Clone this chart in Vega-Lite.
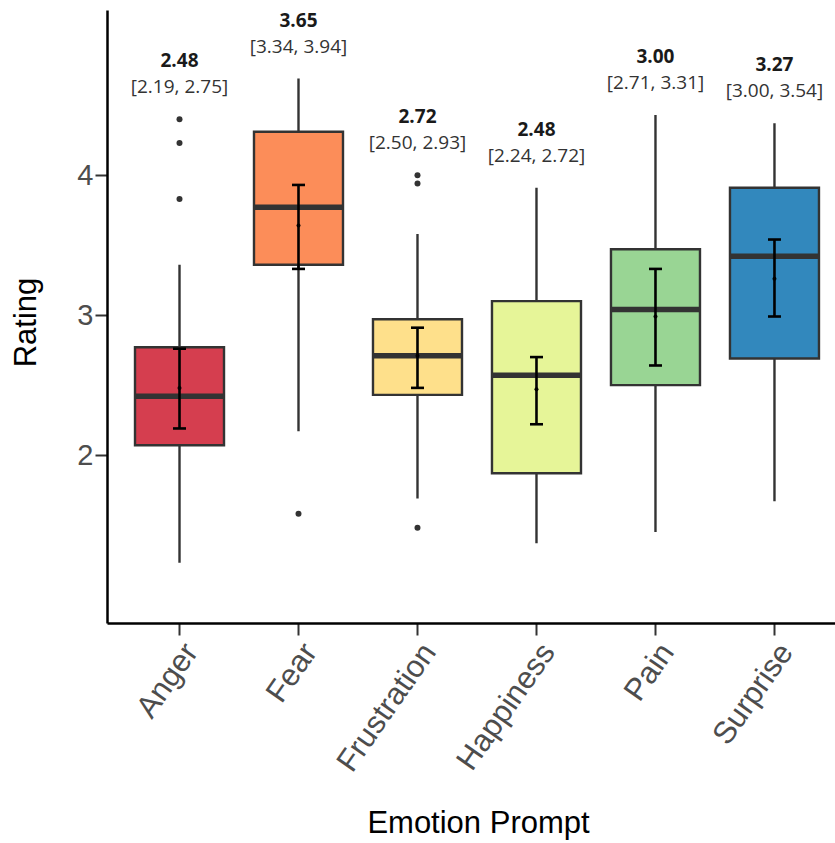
{
  "$schema": "https://vega.github.io/schema/vega-lite/v6.json",
  "width": 728,
  "height": 613,
  "autosize": {"type": "none"},
  "padding": {"left": 107, "top": 10, "right": 0, "bottom": 220},
  "background": "white",
  "config": {"view": {"stroke": null}},
  "datasets": {
    "stats": [
      {"emotion": "Anger", "lo": 1.23, "q1": 2.07, "median": 2.42, "q3": 2.77, "hi": 3.36, "mean": 2.48, "ci_lo": 2.19, "ci_hi": 2.76, "top": 4.40, "mean_label": "2.48", "ci_label": "[2.19, 2.75]"},
      {"emotion": "Fear", "lo": 2.17, "q1": 3.36, "median": 3.77, "q3": 4.31, "hi": 4.69, "mean": 3.64, "ci_lo": 3.33, "ci_hi": 3.93, "top": 4.69, "mean_label": "3.65", "ci_label": "[3.34, 3.94]"},
      {"emotion": "Frustration", "lo": 1.69, "q1": 2.43, "median": 2.71, "q3": 2.97, "hi": 3.58, "mean": 2.71, "ci_lo": 2.48, "ci_hi": 2.91, "top": 4.00, "mean_label": "2.72", "ci_label": "[2.50, 2.93]"},
      {"emotion": "Happiness", "lo": 1.37, "q1": 1.87, "median": 2.57, "q3": 3.10, "hi": 3.91, "mean": 2.47, "ci_lo": 2.22, "ci_hi": 2.70, "top": 3.91, "mean_label": "2.48", "ci_label": "[2.24, 2.72]"},
      {"emotion": "Pain", "lo": 1.45, "q1": 2.50, "median": 3.04, "q3": 3.47, "hi": 4.43, "mean": 2.99, "ci_lo": 2.64, "ci_hi": 3.33, "top": 4.43, "mean_label": "3.00", "ci_label": "[2.71, 3.31]"},
      {"emotion": "Surprise", "lo": 1.67, "q1": 2.69, "median": 3.42, "q3": 3.91, "hi": 4.37, "mean": 3.26, "ci_lo": 2.99, "ci_hi": 3.54, "top": 4.37, "mean_label": "3.27", "ci_label": "[3.00, 3.54]"}
    ],
    "outliers": [
      {"emotion": "Anger", "value": 3.83},
      {"emotion": "Anger", "value": 4.23},
      {"emotion": "Anger", "value": 4.40},
      {"emotion": "Fear", "value": 1.58},
      {"emotion": "Frustration", "value": 3.94},
      {"emotion": "Frustration", "value": 4.00},
      {"emotion": "Frustration", "value": 1.48}
    ]
  },
  "data": {"name": "stats"},
  "encoding": {
    "x": {
      "field": "emotion",
      "type": "nominal",
      "sort": null,
      "scale": {
        "type": "band",
        "domain": ["Anger", "Fear", "Frustration", "Happiness", "Pain", "Surprise"],
        "paddingInner": 0.252,
        "paddingOuter": 0.185,
        "align": 0.636
      },
      "axis": {
        "title": "Emotion Prompt",
        "titleFont": "Liberation Sans",
        "titleFontSize": 31,
        "titleFontWeight": "normal",
        "titleColor": "#000000",
        "titleX": 371,
        "titleY": 209,
        "titleAlign": "center",
        "titleBaseline": "alphabetic",
        "labelFont": "Liberation Sans",
        "labelFontSize": 31,
        "labelColor": "#4d4d4d",
        "labelAngle": -55,
        "labelAlign": "right",
        "labelBaseline": "top",
        "labelPadding": 3,
        "labelOverlap": false,
        "tickSize": 12,
        "tickWidth": 2,
        "tickColor": "#333333",
        "domainColor": "#000000",
        "domainWidth": 2.5,
        "grid": false
      }
    }
  },
  "layer": [
    {
      "mark": {"type": "rule", "color": "#333333", "strokeWidth": 2.4},
      "encoding": {
        "y": {
          "field": "lo",
          "type": "quantitative",
          "scale": {"domain": [0.8, 5.18], "nice": false, "zero": false},
          "axis": {
            "title": "Rating",
            "values": [2, 3, 4],
            "format": ".0f",
            "titleFont": "Liberation Sans",
            "titleFontSize": 31,
            "titleFontWeight": "normal",
            "titleColor": "#000000",
            "titleAngle": -90,
            "titleX": -81,
            "titleY": 312,
            "titleAlign": "center",
            "titleBaseline": "middle",
            "labelFont": "Liberation Sans",
            "labelFontSize": 29,
            "labelColor": "#4d4d4d",
            "labelPadding": 2,
            "tickSize": 12,
            "tickWidth": 2,
            "tickColor": "#333333",
            "domainColor": "#000000",
            "domainWidth": 2.5,
            "grid": false
          }
        },
        "y2": {"field": "hi"}
      }
    },
    {
      "mark": {"type": "bar", "stroke": "#333333", "strokeWidth": 2.4},
      "encoding": {
        "y": {"field": "q1", "type": "quantitative"},
        "y2": {"field": "q3"},
        "fill": {
          "field": "emotion",
          "type": "nominal",
          "scale": {
            "domain": ["Anger", "Fear", "Frustration", "Happiness", "Pain", "Surprise"],
            "range": ["#d53e4f", "#fc8d59", "#fee08b", "#e6f598", "#99d594", "#3288bd"]
          },
          "legend": null
        }
      }
    },
    {
      "mark": {"type": "tick", "color": "#333333", "thickness": 5.5, "size": 89, "opacity": 1},
      "encoding": {"y": {"field": "median", "type": "quantitative"}}
    },
    {
      "mark": {"type": "rule", "color": "#000000", "strokeWidth": 2.6},
      "encoding": {
        "y": {"field": "ci_lo", "type": "quantitative"},
        "y2": {"field": "ci_hi"}
      }
    },
    {
      "mark": {"type": "tick", "color": "#000000", "thickness": 2.6, "size": 13, "opacity": 1},
      "encoding": {"y": {"field": "ci_lo", "type": "quantitative"}}
    },
    {
      "mark": {"type": "tick", "color": "#000000", "thickness": 2.6, "size": 13, "opacity": 1},
      "encoding": {"y": {"field": "ci_hi", "type": "quantitative"}}
    },
    {
      "mark": {"type": "point", "filled": true, "color": "#000000", "size": 16, "opacity": 1},
      "encoding": {"y": {"field": "mean", "type": "quantitative"}}
    },
    {
      "data": {"name": "outliers"},
      "mark": {"type": "circle", "color": "#333333", "size": 36, "opacity": 1},
      "encoding": {"y": {"field": "value", "type": "quantitative"}}
    },
    {
      "mark": {"type": "text", "font": "Open Sans", "fontSize": 19, "fontWeight": "bold", "color": "#1a1a1a", "dy": -58, "baseline": "middle", "align": "center"},
      "encoding": {
        "y": {"field": "top", "type": "quantitative"},
        "text": {"field": "mean_label"}
      }
    },
    {
      "mark": {"type": "text", "font": "Open Sans", "fontSize": 19, "color": "#333333", "dy": -32, "baseline": "middle", "align": "center"},
      "encoding": {
        "y": {"field": "top", "type": "quantitative"},
        "text": {"field": "ci_label"}
      }
    }
  ]
}
